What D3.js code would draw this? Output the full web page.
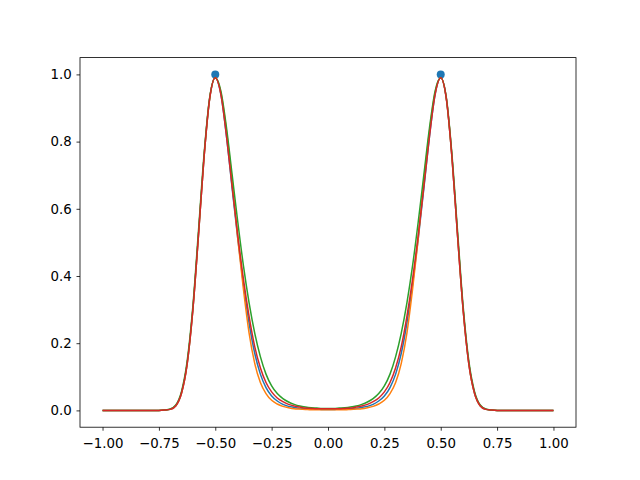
<!DOCTYPE html>
<html>
<head>
<meta charset="utf-8">
<script src="https://cdn.jsdelivr.net/npm/d3@7"></script>
<style>
  body { margin: 0; background: #fff; }
  .c-axis text { font-family: "DejaVu Sans", sans-serif; font-size: 13.33px; fill: #000; }
  .c-axis line { stroke: #000; stroke-width: 0.8; }
  .c-line path { fill: none; stroke-width: 1.5; stroke-linejoin: round; stroke-linecap: butt; }
</style>
</head>
<body>
<div id="chart"></div>
<script>
// sample positions along x
const xValues = [-1.0, -0.975, -0.95, -0.925, -0.9, -0.875, -0.85, -0.825, -0.8, -0.775,
  -0.75, -0.725, -0.7, -0.675, -0.65, -0.625, -0.6, -0.575, -0.55, -0.525,
  -0.5, -0.475, -0.45, -0.425, -0.4, -0.375, -0.35, -0.325, -0.3, -0.275,
  -0.25, -0.225, -0.2, -0.175, -0.15, -0.125, -0.1, -0.075, -0.05, -0.025,
  0, 0.025, 0.05, 0.075, 0.1, 0.125, 0.15, 0.175, 0.2, 0.225,
  0.25, 0.275, 0.3, 0.325, 0.35, 0.375, 0.4, 0.425, 0.45, 0.475,
  0.5, 0.525, 0.55, 0.575, 0.6, 0.625, 0.65, 0.675, 0.7, 0.725,
  0.75, 0.775, 0.8, 0.825, 0.85, 0.875, 0.9, 0.925, 0.95, 0.975, 1.0];

const blueLine = [0, 0, 0, 0, 0, 0, 0, 0, 0, 0,
  0, 0.001, 0.003, 0.014, 0.051, 0.137, 0.295, 0.517, 0.752, 0.927,
  0.99, 0.94, 0.815, 0.66, 0.51, 0.375, 0.26, 0.17, 0.108, 0.068,
  0.043, 0.028, 0.018, 0.012, 0.009, 0.006, 0.005, 0.004, 0.004, 0.003,
  0.003, 0.003, 0.004, 0.004, 0.005, 0.006, 0.009, 0.012, 0.018, 0.028,
  0.043, 0.068, 0.108, 0.17, 0.26, 0.375, 0.51, 0.66, 0.815, 0.94,
  0.99, 0.927, 0.752, 0.517, 0.295, 0.137, 0.051, 0.014, 0.003, 0.001,
  0, 0, 0, 0, 0, 0, 0, 0, 0, 0, 0];

const orangeLine = [0, 0, 0, 0, 0, 0, 0, 0, 0, 0,
  0, 0.001, 0.003, 0.014, 0.051, 0.137, 0.295, 0.517, 0.752, 0.927,
  0.99, 0.945, 0.83, 0.68, 0.51, 0.36, 0.23, 0.14, 0.083, 0.05,
  0.03, 0.019, 0.012, 0.008, 0.005, 0.004, 0.003, 0.002, 0.002, 0.002,
  0.002, 0.002, 0.002, 0.002, 0.003, 0.004, 0.005, 0.008, 0.012, 0.019,
  0.03, 0.05, 0.083, 0.14, 0.23, 0.36, 0.51, 0.68, 0.83, 0.945,
  0.99, 0.927, 0.752, 0.517, 0.295, 0.137, 0.051, 0.014, 0.003, 0.001,
  0, 0, 0, 0, 0, 0, 0, 0, 0, 0, 0];

const greenLine = [0, 0, 0, 0, 0, 0, 0, 0, 0, 0,
  0, 0.001, 0.004, 0.016, 0.056, 0.145, 0.305, 0.53, 0.76, 0.93,
  0.99, 0.95, 0.84, 0.70, 0.56, 0.43, 0.32, 0.23, 0.16, 0.108,
  0.073, 0.05, 0.035, 0.025, 0.018, 0.013, 0.010, 0.008, 0.007, 0.006,
  0.006, 0.006, 0.007, 0.008, 0.010, 0.013, 0.018, 0.025, 0.035, 0.05,
  0.073, 0.108, 0.16, 0.23, 0.32, 0.43, 0.56, 0.70, 0.84, 0.95,
  0.99, 0.93, 0.76, 0.53, 0.305, 0.145, 0.056, 0.016, 0.004, 0.001,
  0, 0, 0, 0, 0, 0, 0, 0, 0, 0, 0];

const redLine = [0, 0, 0, 0, 0, 0, 0, 0, 0, 0,
  0, 0.001, 0.003, 0.014, 0.051, 0.137, 0.295, 0.517, 0.752, 0.927,
  0.99, 0.94, 0.815, 0.665, 0.52, 0.39, 0.28, 0.19, 0.127, 0.083,
  0.055, 0.037, 0.026, 0.018, 0.013, 0.01, 0.007, 0.006, 0.005, 0.005,
  0.005, 0.005, 0.005, 0.006, 0.007, 0.01, 0.013, 0.018, 0.026, 0.037,
  0.055, 0.083, 0.127, 0.19, 0.28, 0.39, 0.52, 0.665, 0.815, 0.94,
  0.99, 0.927, 0.752, 0.517, 0.295, 0.137, 0.051, 0.014, 0.003, 0.001,
  0, 0, 0, 0, 0, 0, 0, 0, 0, 0, 0];

// the two marked points
const peakX = [-0.5, 0.5];
const peakY = [1.0, 1.0];

const xTicks = [-1.0, -0.75, -0.5, -0.25, 0, 0.25, 0.5, 0.75, 1.0];
const yTicks = [0.0, 0.2, 0.4, 0.6, 0.8, 1.0];

class PeaksChart {
  constructor(aims) {
    this.chartContainer = d3.select(aims);
    this.chart = null;
    this.chartWidth = 640;
    this.chartHeight = 480;
    // matplotlib default subplot box
    this.left = 80;
    this.right = 576;
    this.top = 57.6;
    this.bottom = 427.2;
    this.xScale = null;
    this.yScale = null;
  }

  render() {
    this.createSvg();
    this.initScales();
    this.drawPoints();
    this.drawLines();
    this.drawAxes();
  }

  createSvg() {
    this.chart = this.chartContainer
      .append('svg')
      .attr('width', this.chartWidth)
      .attr('height', this.chartHeight);

    this.chart.append('rect')
      .attr('width', this.chartWidth)
      .attr('height', this.chartHeight)
      .attr('fill', '#fff');
  }

  initScales() {
    this.xScale = d3.scaleLinear().domain([-1.1, 1.1]).range([this.left, this.right]);
    this.yScale = d3.scaleLinear().domain([-0.05, 1.05]).range([this.bottom, this.top]);
  }

  drawPoints() {
    this.chart
      .append('g')
      .attr('class', 'c-points')
      .selectAll('circle')
      .data(peakX)
      .enter()
      .append('circle')
      .attr('cx', (d) => this.xScale(d))
      .attr('cy', (d, i) => this.yScale(peakY[i]))
      .attr('r', 4)
      .attr('fill', '#1f77b4');
  }

  drawLines() {
    let series = [
      { values: blueLine, color: '#1f77b4' },
      { values: orangeLine, color: '#ff7f0e' },
      { values: greenLine, color: '#2ca02c' },
      { values: redLine, color: '#d62728' }
    ];

    let line = d3.line()
      .curve(d3.curveMonotoneX)
      .x((d, i) => this.xScale(xValues[i]))
      .y((d) => this.yScale(d));

    this.chart
      .append('g')
      .attr('class', 'c-line')
      .selectAll('path')
      .data(series)
      .enter()
      .append('path')
      .attr('d', (s) => line(s.values))
      .attr('stroke', (s) => s.color);
  }

  drawAxes() {
    let xAxis = d3.axisBottom(this.xScale)
      .tickValues(xTicks)
      .tickFormat(d3.format('.2f'))
      .tickSize(3.5)
      .tickSizeOuter(0)
      .tickPadding(7.5);

    let yAxis = d3.axisLeft(this.yScale)
      .tickValues(yTicks)
      .tickFormat(d3.format('.1f'))
      .tickSize(3.5)
      .tickSizeOuter(0)
      .tickPadding(4.7);

    let gx = this.chart
      .append('g')
      .attr('class', 'c-axis')
      .attr('transform', 'translate(0, ' + this.bottom + ')')
      .call(xAxis);
    gx.select('.domain').remove();

    let gy = this.chart
      .append('g')
      .attr('class', 'c-axis')
      .attr('transform', 'translate(' + this.left + ', 0)')
      .call(yAxis);
    gy.select('.domain').remove();

    // frame round the plot area
    this.chart.append('rect')
      .attr('x', this.left)
      .attr('y', this.top)
      .attr('width', this.right - this.left)
      .attr('height', this.bottom - this.top)
      .attr('fill', 'none')
      .attr('stroke', '#000')
      .attr('stroke-width', 0.8);
  }
}

let chart = new PeaksChart('#chart');
chart.render();
</script>
</body>
</html>
